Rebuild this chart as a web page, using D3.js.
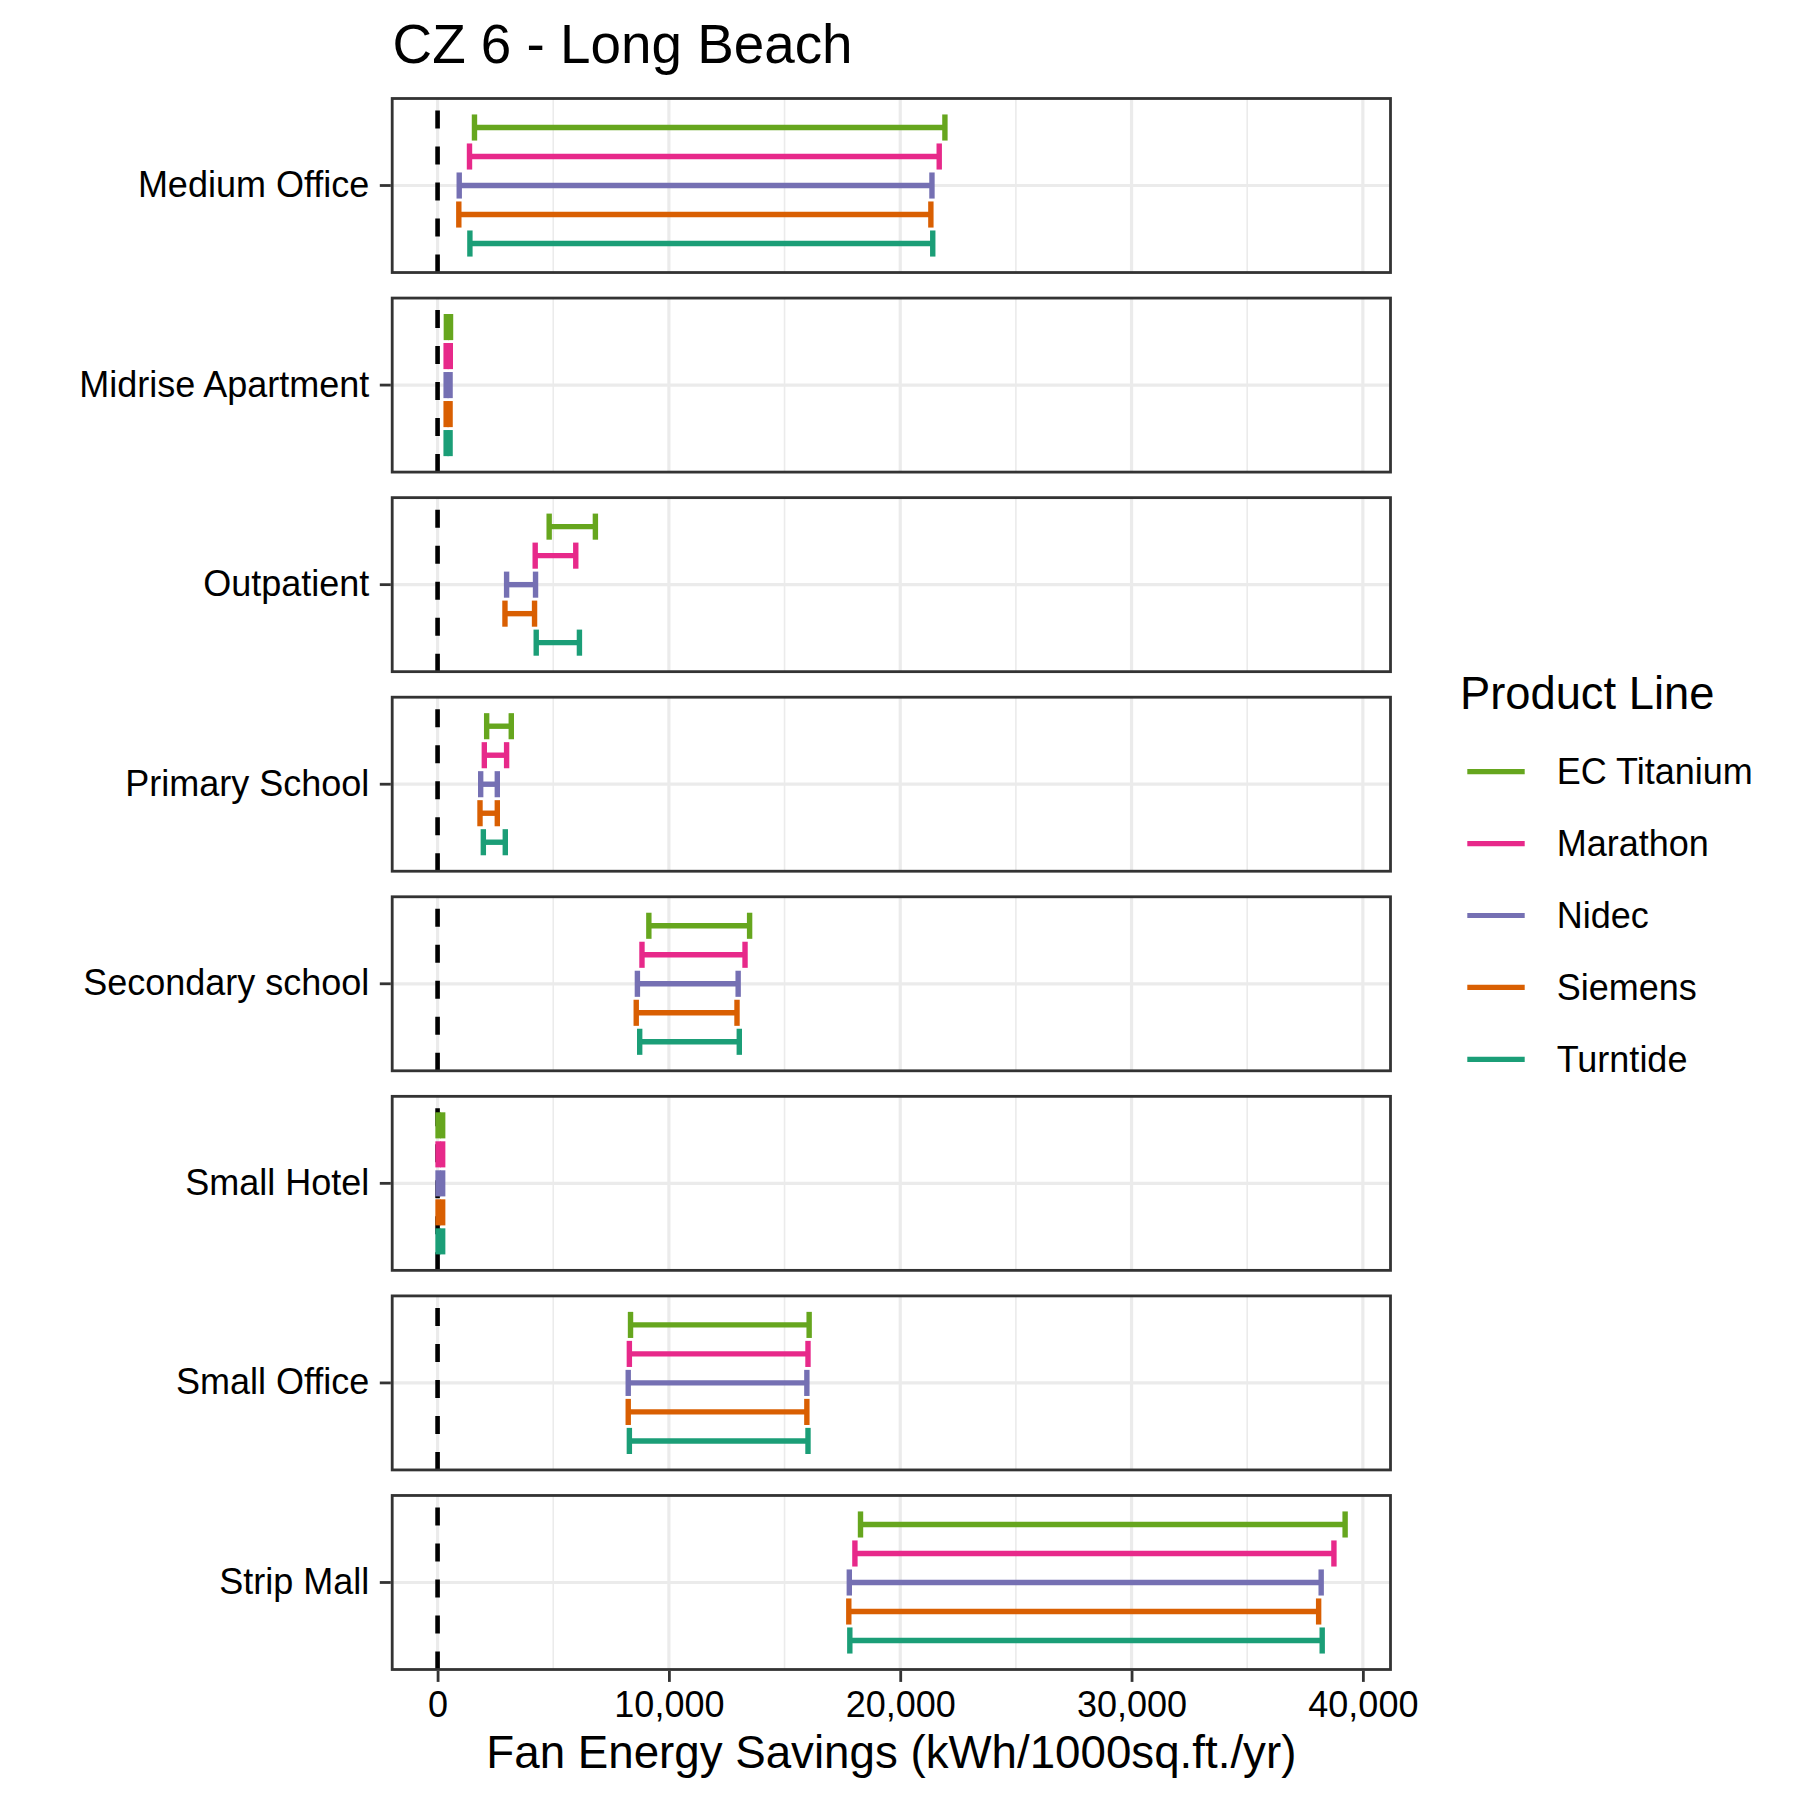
<!DOCTYPE html>
<html>
<head>
<meta charset="utf-8">
<script src="https://cdn.jsdelivr.net/npm/d3@7"></script>
<style>
  html, body { margin: 0; padding: 0; background: #ffffff; }
  svg { display: block; }
  text { font-family: "Liberation Sans", Arial, Helvetica, sans-serif; }
</style>
</head>
<body>
<div id="chart"></div>
<script>
// ---------------- data ----------------
const chartTitle = "CZ 6 - Long Beach";
const xAxisTitle = "Fan Energy Savings (kWh/1000sq.ft./yr)";
const legendTitle = "Product Line";

const buildings = ["Medium Office", "Midrise Apartment", "Outpatient", "Primary School",
                   "Secondary school", "Small Hotel", "Small Office", "Strip Mall"];

// legend / top-to-bottom order inside each panel
const products = ["EC Titanium", "Marathon", "Nidec", "Siemens", "Turntide"];
const productColors = ["#66A61E", "#E7298A", "#7570B3", "#D95F02", "#1B9E77"];

// lower / upper savings per building (same order as buildings)
const ecTitaniumLow  = [1595, 380, 4824, 2122, 9133, 20, 8341, 18283];
const ecTitaniumHigh = [21932, 560, 6822, 3186, 13489, 220, 16063, 39233];
const marathonLow    = [1380, 370, 4220, 2021, 8836, 20, 8291, 18041];
const marathonHigh   = [21686, 550, 5974, 2984, 13291, 220, 16013, 38749];
const nidecLow       = [936, 370, 2984, 1863, 8638, 20, 8242, 17799];
const nidecHigh      = [21372, 540, 4235, 2582, 12994, 220, 15964, 38198];
const siemensLow     = [918, 370, 2913, 1834, 8588, 20, 8242, 17777];
const siemensHigh    = [21325, 540, 4192, 2582, 12944, 220, 15964, 38088];
const turntideLow    = [1397, 370, 4264, 1978, 8737, 20, 8291, 17821];
const turntideHigh   = [21406, 540, 6132, 2927, 13043, 220, 16013, 38242];

const xTicks = [0, 10000, 20000, 30000, 40000];
const xMinorTicks = [5000, 15000, 25000, 35000];
const referenceLine = 0;

// --------------- build table -----------
const lowSeries  = [ecTitaniumLow, marathonLow, nidecLow, siemensLow, turntideLow];
const highSeries = [ecTitaniumHigh, marathonHigh, nidecHigh, siemensHigh, turntideHigh];
const rows = [];
buildings.forEach((b, bi) => {
  products.forEach((p, pi) => {
    rows.push({ building: b, product: p, low: lowSeries[pi][bi], high: highSeries[pi][bi] });
  });
});

// --------------- layout ----------------
const W = 1800, H = 1800;
const svg = d3.select("#chart").append("svg").attr("width", W).attr("height", H);

const dataMin = Math.min(referenceLine, d3.min(rows, d => d.low));
const dataMax = Math.max(referenceLine, d3.max(rows, d => d.high));
const expand = (dataMax - dataMin) * 0.05;
const x = d3.scaleLinear().domain([dataMin - expand, dataMax + expand]).range([392.2, 1390.5]);

const panelY = d3.scaleBand().domain(buildings).range([98.5, 1669.5]).paddingInner(0.128);
const color = d3.scaleOrdinal().domain(products).range(productColors);

const gridMajor = "#EBEBEB";
const borderColor = "#333333";
const lineW = 2.8;
const barW = 5.4;

buildings.forEach(b => {
  const top = panelY(b), h = panelY.bandwidth();
  const g = svg.append("g");
  // discrete y: single level with 0.6 expansion on each side
  const yCat = d3.scaleLinear().domain([0.4, 1.6]).range([top + h, top]);
  const dodge = d3.scaleBand().domain(products).range([yCat(1.5), yCat(0.5)]);

  g.append("rect").attr("x", x.range()[0]).attr("y", top)
    .attr("width", x.range()[1] - x.range()[0]).attr("height", h).attr("fill", "#ffffff");

  g.selectAll(".minor").data(xMinorTicks).join("line")
    .attr("x1", d => x(d)).attr("x2", d => x(d)).attr("y1", top).attr("y2", top + h)
    .attr("stroke", gridMajor).attr("stroke-width", 1.6);
  g.selectAll(".major").data(xTicks).join("line")
    .attr("x1", d => x(d)).attr("x2", d => x(d)).attr("y1", top).attr("y2", top + h)
    .attr("stroke", gridMajor).attr("stroke-width", 3.2);
  g.append("line").attr("x1", x.range()[0]).attr("x2", x.range()[1])
    .attr("y1", yCat(1)).attr("y2", yCat(1))
    .attr("stroke", gridMajor).attr("stroke-width", 3.2);

  // dashed reference line, drawn from bottom up
  g.append("line").attr("x1", x(referenceLine)).attr("x2", x(referenceLine))
    .attr("y1", top + h).attr("y2", top)
    .attr("stroke", "#000000").attr("stroke-width", 4.6).attr("stroke-dasharray", "18 18");

  const capH = dodge.bandwidth() * 0.9;
  const bars = rows.filter(r => r.building === b);
  const eb = g.selectAll(".eb").data(bars).join("g")
    .attr("stroke", d => color(d.product)).attr("stroke-width", barW).attr("fill", "none");
  eb.append("line")
    .attr("x1", d => x(d.low)).attr("x2", d => x(d.high))
    .attr("y1", d => dodge(d.product) + dodge.bandwidth() / 2)
    .attr("y2", d => dodge(d.product) + dodge.bandwidth() / 2);
  eb.append("line")
    .attr("x1", d => x(d.low)).attr("x2", d => x(d.low))
    .attr("y1", d => dodge(d.product) + dodge.bandwidth() / 2 - capH / 2)
    .attr("y2", d => dodge(d.product) + dodge.bandwidth() / 2 + capH / 2);
  eb.append("line")
    .attr("x1", d => x(d.high)).attr("x2", d => x(d.high))
    .attr("y1", d => dodge(d.product) + dodge.bandwidth() / 2 - capH / 2)
    .attr("y2", d => dodge(d.product) + dodge.bandwidth() / 2 + capH / 2);

  g.append("rect").attr("x", x.range()[0]).attr("y", top)
    .attr("width", x.range()[1] - x.range()[0]).attr("height", h)
    .attr("fill", "none").attr("stroke", borderColor).attr("stroke-width", lineW);

  // y axis (one category per facet)
  const yBand = d3.scaleBand().domain([b]).range([top, top + h]);
  const ya = svg.append("g").attr("transform", `translate(${x.range()[0] - lineW / 2},0)`)
    .call(d3.axisLeft(yBand).tickSize(11).tickPadding(10.5));
  ya.select(".domain").remove();
  ya.selectAll(".tick line").attr("stroke", borderColor).attr("stroke-width", lineW);
  ya.selectAll(".tick text").attr("fill", "#000000").attr("font-size", 36)
    .attr("font-family", "'Liberation Sans', Arial, sans-serif");
});

// x axis at bottom panel
const lastBottom = panelY(buildings[buildings.length - 1]) + panelY.bandwidth();
const xa = svg.append("g").attr("transform", `translate(0,${lastBottom + lineW / 2})`)
  .call(d3.axisBottom(x).tickValues(xTicks).tickFormat(d3.format(",")).tickSize(11).tickPadding(10));
xa.select(".domain").remove();
xa.selectAll(".tick line").attr("stroke", borderColor).attr("stroke-width", lineW);
xa.selectAll(".tick text").attr("fill", "#000000").attr("font-size", 36)
  .attr("font-family", "'Liberation Sans', Arial, sans-serif");

// titles
svg.append("text").attr("x", 392.6).attr("y", 63).attr("font-size", 54.8)
  .attr("fill", "#000").text(chartTitle);
svg.append("text").attr("x", (x.range()[0] + x.range()[1]) / 2).attr("y", 1768)
  .attr("text-anchor", "middle").attr("font-size", 45.7).attr("fill", "#000").text(xAxisTitle);

// legend
const lg = svg.append("g");
lg.append("text").attr("x", 1460).attr("y", 709).attr("font-size", 45.3).attr("fill", "#000").text(legendTitle);
const item = lg.selectAll(".item").data(products).join("g")
  .attr("transform", (d, i) => `translate(0,${771.7 + i * 71.9})`);
item.append("line").attr("x1", 1467.3).attr("x2", 1524.7).attr("y1", 0).attr("y2", 0)
  .attr("stroke", d => color(d)).attr("stroke-width", 5.2);
item.append("text").attr("x", 1556.7).attr("y", 12.5).attr("font-size", 36).attr("fill", "#000").text(d => d);
</script>
</body>
</html>
